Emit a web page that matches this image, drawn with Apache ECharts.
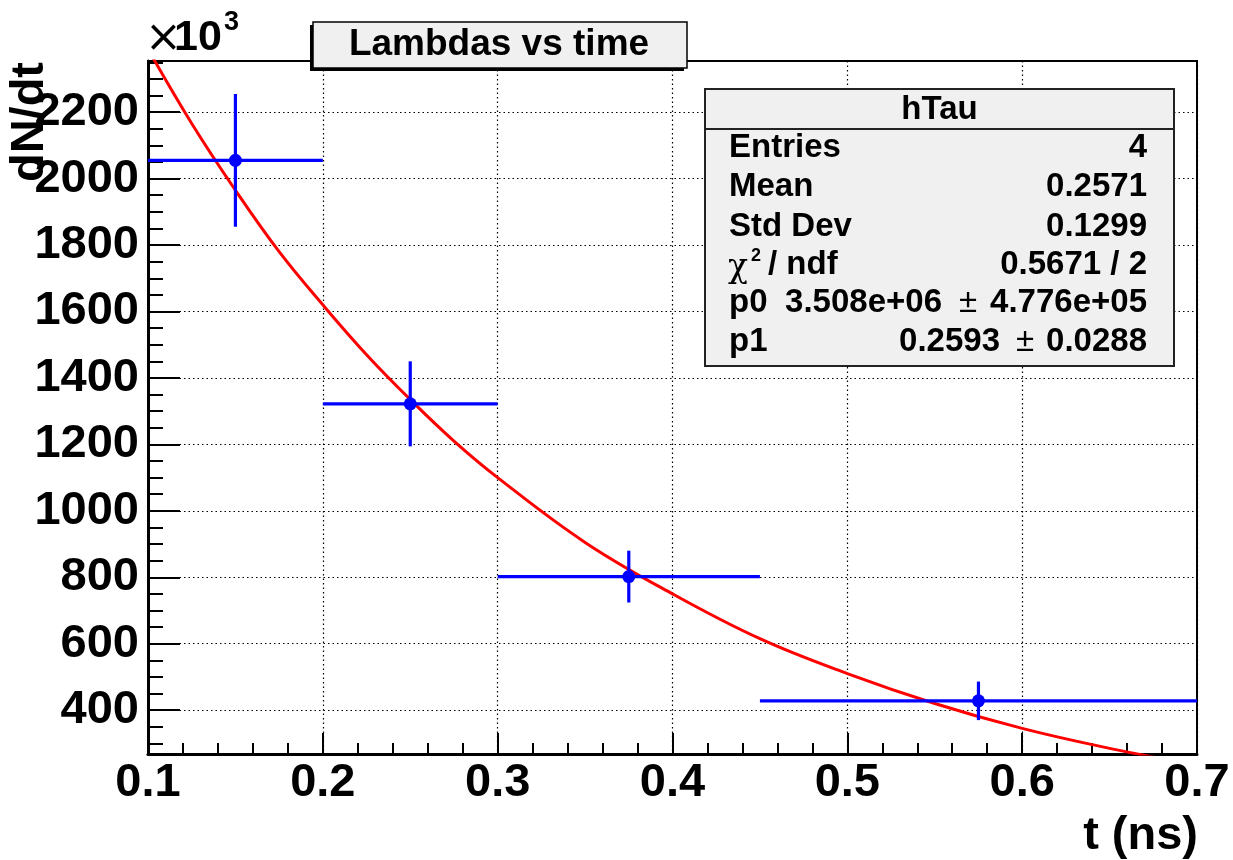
<!DOCTYPE html>
<html>
<head>
<meta charset="utf-8">
<script src="https://cdn.jsdelivr.net/npm/echarts@6/dist/echarts.min.js"></script>
<style>
  html, body { margin: 0; padding: 0; background: #ffffff; }
  #chart { width: 1233px; height: 860px; }
</style>
</head>
<body>
<div id="chart"></div>
<script>
// Histogram hTau: dN/dt per time bin (units of 10^3), with statistical errors
const binEdges   = [0.1, 0.2, 0.3, 0.45, 0.7];
const binCenters = [0.15, 0.25, 0.375, 0.575];
const dNdt       = [2055, 1322, 802, 428];
const dNdtErr    = [200, 128, 78, 58];

// Exponential fit curve, sampled along t (ns)
const fitT = [0.1, 0.125, 0.15, 0.175, 0.2, 0.225, 0.25, 0.275, 0.3, 0.35, 0.4, 0.45, 0.5, 0.55, 0.6, 0.65, 0.7];
const fitY = [2390, 2166, 1965, 1780, 1620, 1470, 1335, 1210, 1100, 905, 750, 615, 510, 420, 345, 285, 235];

// Axis ranges
const xRange = [0.1, 0.7];
const yRange = [268, 2354];

// Stats box contents
const statsTitle = 'hTau';
const statsRows = [
  ['Entries', '4'],
  ['Mean', '0.2571'],
  ['Std Dev', '0.1299']
];
const chi2Text = '0.5671 / 2';
const p0Val = '3.508e+06', p0Err = '4.776e+05';
const p1Val = '0.2593', p1Err = '0.0288';

const FONT = '"Liberation Sans", Arial, Helvetica, sans-serif';
const BLUE = '#0000ff';
const RED = '#ff0000';

const errData = binCenters.map((c, i) => [binEdges[i], binEdges[i + 1], c, dNdt[i], dNdtErr[i]]);
const fitData = fitT.map((t, i) => [t, fitY[i]]);

const chart = echarts.init(document.getElementById('chart'), null, { renderer: 'canvas' });

const GL = 148, GR = 1197, GT = 61, GB = 754;

// stats box geometry
const SB = { x: 705, y: 89, w: 469, h: 277, head: 40 };
const rowY = [148, 187, 227, 265, 303, 342];
const LX = 729, RX = 1147;

function txt(text, x, y, opts) {
  return {
    type: 'text', z: 102, x: x, y: y,
    style: Object.assign({
      text: text, fill: '#000', font: 'bold 33px ' + FONT,
      textAlign: 'left', textVerticalAlign: 'middle'
    }, opts || {})
  };
}

const graphics = [
  // title box: shadow, box, text
  { type: 'rect', z: 100, shape: { x: 310, y: 25, width: 374, height: 46 }, style: { fill: '#000' } },
  { type: 'rect', z: 101, shape: { x: 313, y: 22, width: 374, height: 46 }, style: { fill: '#f0f0f0', stroke: '#000', lineWidth: 1.5 } },
  txt('Lambdas vs time', 499, 45, { textAlign: 'center', font: 'bold 37px ' + FONT }),

  // exponent marker on the y axis
  txt('\u00d7', 145, 40, { font: '44px "DejaVu Sans", ' + FONT }),
  txt('10', 174, 38, { font: 'bold 43px ' + FONT }),
  txt('3', 224, 23, { font: 'bold 27px ' + FONT }),

  // axis titles
  { type: 'text', z: 102, x: 30, y: 62, rotation: Math.PI / 2,
    style: { text: 'dN/dt', fill: '#000', font: 'bold 47px ' + FONT, textAlign: 'right', textVerticalAlign: 'middle' } },
  txt('t (ns)', 1198, 836, { textAlign: 'right', font: 'bold 47px ' + FONT }),

  // stats box
  { type: 'rect', z: 100, shape: { x: SB.x, y: SB.y, width: SB.w, height: SB.h }, style: { fill: '#f0f0f0', stroke: '#222', lineWidth: 2 } },
  { type: 'line', z: 101, shape: { x1: SB.x, y1: SB.y + SB.head, x2: SB.x + SB.w, y2: SB.y + SB.head }, style: { stroke: '#222', lineWidth: 2 } },
  txt(statsTitle, SB.x + SB.w / 2, 110, { textAlign: 'center' })
];

statsRows.forEach((r, i) => {
  graphics.push(txt(r[0], LX, rowY[i]));
  graphics.push(txt(r[1], RX, rowY[i], { textAlign: 'right' }));
});
// chi2 / ndf row
graphics.push(txt('\u03c7', LX - 1, rowY[3] + 3, { font: '33px "DejaVu Serif", serif' }));
graphics.push(txt('2', 751, rowY[3] - 9, { font: 'bold 18px ' + FONT }));
graphics.push(txt('/ ndf', 768, rowY[3]));
graphics.push(txt(chi2Text, RX, rowY[3], { textAlign: 'right' }));
// fit parameters
graphics.push(txt('p0', LX, rowY[4]));
graphics.push(txt(p0Val, 942, rowY[4], { textAlign: 'right' }));
graphics.push(txt('\u00b1', 968, rowY[4], { textAlign: 'center', font: '33px ' + FONT }));
graphics.push(txt(p0Err, RX, rowY[4], { textAlign: 'right' }));
graphics.push(txt('p1', LX, rowY[5]));
graphics.push(txt(p1Val, 1000, rowY[5], { textAlign: 'right' }));
graphics.push(txt('\u00b1', 1025, rowY[5], { textAlign: 'center', font: '33px ' + FONT }));
graphics.push(txt(p1Err, RX, rowY[5], { textAlign: 'right' }));

const gridDots = { color: '#000', width: 1.2, type: [1.5, 3] };

chart.setOption({
  animation: false,
  backgroundColor: '#ffffff',
  grid: {
    left: GL, right: 1233 - GR, top: GT, bottom: 860 - GB,
    show: true, borderColor: '#000', borderWidth: 2, backgroundColor: 'transparent'
  },
  xAxis: {
    type: 'value', min: xRange[0], max: xRange[1], interval: 0.1,
    axisLine: { show: true, onZero: false, lineStyle: { color: '#000', width: 3 } },
    axisTick: { show: true, inside: true, length: 21, lineStyle: { color: '#000', width: 2 } },
    minorTick: { show: true, splitNumber: 5, length: 11, lineStyle: { color: '#000', width: 2 } },
    splitLine: { show: true, lineStyle: gridDots },
    axisLabel: {
      color: '#000', fontFamily: FONT, fontWeight: 'bold', fontSize: 47, margin: 6,
      showMinLabel: true, showMaxLabel: true,
      formatter: v => v.toFixed(1)
    }
  },
  yAxis: [
    {
      type: 'value', min: yRange[0], max: yRange[1], splitNumber: 10,
      axisLine: { show: true, onZero: false, lineStyle: { color: '#000', width: 3 } },
      axisTick: { show: true, inside: true, length: 32, lineStyle: { color: '#000', width: 2 } },
      splitLine: { show: true, lineStyle: gridDots },
      axisLabel: {
        color: '#000', fontFamily: FONT, fontWeight: 'bold', fontSize: 47, margin: 9,
        showMinLabel: false, showMaxLabel: false,
        formatter: v => String(Math.round(v))
      }
    },
    {
      // finer division ticks every 50
      type: 'value', position: 'left', min: yRange[0], max: yRange[1], splitNumber: 42,
      axisLine: { show: false },
      axisTick: { show: true, inside: true, length: 15, lineStyle: { color: '#000', width: 2 } },
      splitLine: { show: false },
      axisLabel: { show: false }
    }
  ],
  series: [
    {
      type: 'line', name: 'fit', data: fitData, xAxisIndex: 0, yAxisIndex: 0,
      smooth: 0.4, showSymbol: false, clip: true, z: 3,
      lineStyle: { color: RED, width: 3 }
    },
    {
      type: 'custom', name: 'hTau', data: errData, xAxisIndex: 0, yAxisIndex: 0, z: 4,
      encode: { x: [0, 1, 2], y: [3] },
      renderItem: function (params, api) {
        const lo = api.value(0), hi = api.value(1), c = api.value(2), v = api.value(3), e = api.value(4);
        const pL = api.coord([lo, v]), pR = api.coord([hi, v]);
        const pT = api.coord([c, v + e]), pB = api.coord([c, v - e]);
        const pC = api.coord([c, v]);
        const ls = { stroke: BLUE, lineWidth: 3.2 };
        return {
          type: 'group',
          children: [
            { type: 'line', shape: { x1: pL[0], y1: pL[1], x2: pR[0], y2: pR[1] }, style: ls },
            { type: 'line', shape: { x1: pT[0], y1: pT[1], x2: pB[0], y2: pB[1] }, style: ls },
            { type: 'circle', shape: { cx: pC[0], cy: pC[1], r: 6.5 }, style: { fill: BLUE } }
          ]
        };
      }
    }
  ],
  graphic: graphics
});
</script>
</body>
</html>
